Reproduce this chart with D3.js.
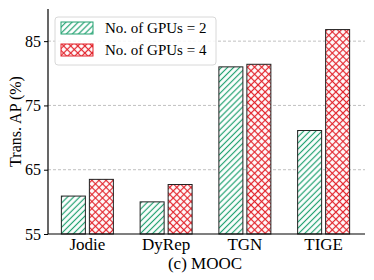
<!DOCTYPE html>
<html>
<head>
<meta charset="utf-8">
<script src="https://cdn.jsdelivr.net/npm/d3@7"></script>
<style>
  body { margin: 0; background: #fff; }
  svg text { font-family: "Liberation Serif", "Times New Roman", serif; fill: #000; }
</style>
</head>
<body>
<div id="chart"></div>
<script>
var models = ['Jodie', 'DyRep', 'TGN', 'TIGE'];
var gpus2 = [60.9, 60.0, 81.0, 71.1];
var gpus4 = [63.5, 62.7, 81.4, 86.8];
var seriesNames = ['No. of GPUs = 2', 'No. of GPUs = 4'];
var yTicks = [55, 65, 75, 85];

var width = 374,
  height = 280,
  margin = { top: 9, right: 9, bottom: 46, left: 48 };

var green = '#22a271',
  red = '#e2242c',
  serif = 'Liberation Serif';

var svg = d3.select('#chart').append('svg')
  .attr('width', width)
  .attr('height', height)
  .attr('font-family', serif);

// hatch patterns
var defs = svg.append('defs');

var diag = defs.append('pattern')
  .attr('id', 'diag')
  .attr('patternUnits', 'userSpaceOnUse')
  .attr('width', 4.3)
  .attr('height', 4.3)
  .attr('patternTransform', 'rotate(45)');
diag.append('rect').attr('width', 4.3).attr('height', 4.3).attr('fill', '#fff');
diag.append('line')
  .attr('x1', 2.15).attr('y1', 0).attr('x2', 2.15).attr('y2', 4.3)
  .attr('stroke', green).attr('stroke-width', 1.2);

var cross = defs.append('pattern')
  .attr('id', 'cross')
  .attr('patternUnits', 'userSpaceOnUse')
  .attr('width', 5)
  .attr('height', 5)
  .attr('patternTransform', 'rotate(45)');
cross.append('rect').attr('width', 5).attr('height', 5).attr('fill', '#fff');
cross.append('line')
  .attr('x1', 2.5).attr('y1', 0).attr('x2', 2.5).attr('y2', 5)
  .attr('stroke', red).attr('stroke-width', 1.2);
cross.append('line')
  .attr('x1', 0).attr('y1', 2.5).attr('x2', 5).attr('y2', 2.5)
  .attr('stroke', red).attr('stroke-width', 1.2);

var fills = ['url(#diag)', 'url(#cross)'];
var edges = [green, red];

var x = d3.scaleBand()
  .domain(models)
  .range([margin.left, width - margin.right - 2]);

var y = d3.scaleLinear()
  .domain([55, 90])
  .range([height - margin.bottom, margin.top]);

var barW = 24, gap = 4;

// grid
svg.append('g').selectAll('line')
  .data(yTicks.slice(1))
  .enter().append('line')
    .attr('x1', margin.left)
    .attr('x2', width - margin.right)
    .attr('y1', function (d) { return y(d); })
    .attr('y2', function (d) { return y(d); })
    .attr('stroke', '#b0b0b0')
    .attr('stroke-width', 0.8)
    .attr('stroke-dasharray', '3,2');

// bars
var series = [gpus2, gpus4];
series.forEach(function (vals, si) {
  svg.append('g').selectAll('rect')
    .data(models)
    .enter().append('rect')
      .attr('x', function (d) {
        var c = x(d) + x.bandwidth() / 2;
        return si === 0 ? c - gap / 2 - barW : c + gap / 2;
      })
      .attr('y', function (d, i) { return y(vals[i]); })
      .attr('width', barW)
      .attr('height', function (d, i) { return y(55) - y(vals[i]); })
      .attr('fill', fills[si])
      .attr('stroke', '#222')
      .attr('stroke-width', 1);
});

// axes
var yAxis = svg.append('g')
  .attr('transform', 'translate(' + margin.left + ',0)')
  .call(d3.axisLeft(y).tickValues(yTicks).tickSize(4).tickPadding(3));
yAxis.attr('font-family', serif);
yAxis.selectAll('text').style('font-size', '16px');

var xAxis = svg.append('g')
  .attr('transform', 'translate(0,' + (height - margin.bottom) + ')')
  .call(d3.axisBottom(x).tickSize(0).tickPadding(4));
xAxis.attr('font-family', serif);
xAxis.selectAll('text').style('font-size', '17px');
xAxis.select('.domain').attr('d', 'M' + margin.left + ',0H' + (width - margin.right));

svg.selectAll('.domain').attr('stroke', '#000').attr('stroke-width', 1.2);
yAxis.select('.domain').attr('d', 'M0,' + y(90) + 'V' + y(55));

svg.append('text')
  .attr('transform', 'translate(21,' + ((margin.top + height - margin.bottom) / 2) + ') rotate(-90)')
  .attr('text-anchor', 'middle')
  .style('font-size', '16px')
  .text('Trans. AP (%)');

svg.append('text')
  .attr('x', 205)
  .attr('y', 269)
  .attr('text-anchor', 'middle')
  .style('font-size', '17px')
  .text('(c) MOOC');

// legend
var legend = svg.append('g');
legend.append('rect')
  .attr('x', 55).attr('y', 17)
  .attr('width', 161).attr('height', 48)
  .attr('rx', 3)
  .attr('fill', '#fff')
  .attr('fill-opacity', 0.85)
  .attr('stroke', '#d8d8d8');

seriesNames.forEach(function (name, i) {
  legend.append('rect')
    .attr('x', 61).attr('y', 22 + i * 22)
    .attr('width', 32).attr('height', 12)
    .attr('fill', fills[i])
    .attr('stroke', edges[i])
    .attr('stroke-width', 1);
  legend.append('text')
    .attr('x', 105).attr('y', 33 + i * 22)
    .style('font-size', '15px')
    .text(name);
});
</script>
</body>
</html>
